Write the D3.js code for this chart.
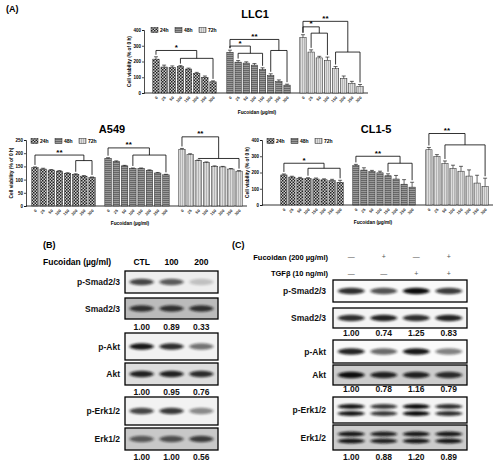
<!DOCTYPE html>
<html><head><meta charset="utf-8">
<script src="https://cdn.jsdelivr.net/npm/d3@7"></script>
<style>body{margin:0;background:#fff}text{font-family:Arial,"Liberation Sans",sans-serif}</style>
</head><body><div id="vis"></div>
<script>
'use strict';
// doses along each time group
var doses = ["0","25","50","100","150","200","250","300"];
var times = ["24h","48h","72h"];

// LLC1 cell viability (% of 0 h)
var llc1_24 = [215,165,162,168,152,125,100,71];
var llc1_48 = [258,196,190,177,148,110,73,50];
var llc1_72 = [352,260,223,208,154,92,62,42];
var llc1_err24 = [15,12,10,6,6,6,8,6];
var llc1_err48 = [14,10,8,10,12,12,10,6];
var llc1_72err = [18,14,10,20,14,16,12,12];
// A549
var a549_24 = [145,140,136,132,124,120,113,108];
var a549_48 = [180,168,152,142,142,135,125,118];
var a549_72 = [215,195,172,165,150,148,140,132];
var a549_err = [3,3,2,2,2,2,2,2];
// CL1-5
var cl15_24 = [185,172,165,163,160,155,150,140];
var cl15_48 = [242,215,205,198,180,160,128,110];
var cl15_72 = [340,298,255,225,208,178,135,115];
var cl15_err24 = [6,5,5,5,6,6,8,12];
var cl15_err48 = [8,14,8,10,12,22,28,30];
var cl15_err72 = [14,12,16,20,30,38,48,50];

// western blot labels, lane headers and quantified ratios
var blotB_rows = ["p-Smad2/3","Smad2/3","p-Akt","Akt","p-Erk1/2","Erk1/2"];
var blotB_lanes = ["CTL","100","200"];
var blotB_smad = ["1.00","0.89","0.33"];
var blotB_akt = ["1.00","0.95","0.76"];
var blotB_erk = ["1.00","1.00","0.56"];
var blotB_band = [[0.75,0.65,0.2],[0.8,0.8,0.8],[0.95,0.85,0.55],[0.9,0.9,0.85],[0.75,0.8,0.45],[0.6,0.65,0.75]];
var blotC_fuc = ["\u2014","+","\u2014","+"];
var blotC_tgf = ["\u2014","\u2014","+","+"];
var blotC_smad = ["1.00","0.74","1.25","0.83"];
var blotC_akt = ["1.00","0.78","1.16","0.79"];
var blotC_erk = ["1.00","0.88","1.20","0.89"];
var blotC_band = [[0.85,0.7,1,0.8],[0.85,0.9,0.85,0.9],[0.9,0.6,0.95,0.5],[1,0.9,0.9,0.85],[0.95,0.8,1,0.85],[0.95,0.9,0.95,0.95]];

var svg = d3.select('#vis').append('svg').attr('width',500).attr('height',465);
var defs = svg.append('defs');
// bar fill patterns
var p1 = defs.append('pattern').attr('id','pat24').attr('width',3).attr('height',3).attr('patternUnits','userSpaceOnUse');
p1.append('rect').attr('width',3).attr('height',3).attr('fill','#ccc');
p1.append('rect').attr('width',1.5).attr('height',1.5).attr('fill','#222');
p1.append('rect').attr('x',1.5).attr('y',1.5).attr('width',1.5).attr('height',1.5).attr('fill','#222');
var p2 = defs.append('pattern').attr('id','pat48').attr('width',4).attr('height',2).attr('patternUnits','userSpaceOnUse');
p2.append('rect').attr('width',4).attr('height',2).attr('fill','#999');
p2.append('rect').attr('width',4).attr('height',0.8).attr('fill','#5a5a5a');
var p3 = defs.append('pattern').attr('id','pat72').attr('width',2).attr('height',4).attr('patternUnits','userSpaceOnUse');
p3.append('rect').attr('width',2).attr('height',4).attr('fill','#ddd');
p3.append('rect').attr('width',0.6).attr('height',4).attr('fill','#999');
defs.append('filter').attr('id','blur').attr('x','-30%').attr('y','-80%').attr('width','160%').attr('height','260%')
  .append('feGaussianBlur').attr('stdDeviation','1.6 1.2');
var pats = ['url(#pat24)','url(#pat48)','url(#pat72)'];

svg.append('text').attr('x',6).attr('y',12).attr('font-size',9).attr('font-weight','bold').text('(A)');

function drawPanel(c){
  var g = svg.append('g');
  var y = d3.scaleLinear().domain([0,c.max]).range([c.y0,c.y1]);
  g.append('g').attr('transform','translate('+c.ax+',0)')
   .call(d3.axisLeft(y).tickValues(c.ticks).tickSize(2).tickPadding(1).tickFormat(d3.format('d')))
   .call(function(a){a.selectAll('text').attr('font-size',4.5).attr('font-weight','bold');a.selectAll('path,line').attr('stroke-width',0.7);});
  g.append('line').attr('x1',c.ax).attr('x2',c.groups[2][1]+3).attr('y1',c.y0).attr('y2',c.y0).attr('stroke','#000').attr('stroke-width',0.8);
  g.append('text').attr('transform','translate('+(c.ax-13)+','+((c.y0+c.y1)/2)+') rotate(-90)')
   .attr('text-anchor','middle').attr('font-size',4.8).attr('font-weight','bold').text('Cell viability (% of 0 h)');
  var xs = [];
  c.vals.forEach(function(vals,gi){
    var x = d3.scaleBand().domain(doses).range(c.groups[gi]).padding(0.22);
    xs.push(x);
    g.selectAll(null).data(vals).enter().append('rect')
     .attr('x',function(d,i){return x(doses[i]);}).attr('width',x.bandwidth())
     .attr('y',function(d){return y(d);}).attr('height',function(d){return c.y0-y(d);})
     .attr('fill',pats[gi]).attr('stroke','#222').attr('stroke-width',0.5);
    var errs = c.errs[gi];
    vals.forEach(function(d,i){
      var cx = x(doses[i])+x.bandwidth()/2;
      g.append('line').attr('x1',cx).attr('x2',cx).attr('y1',y(d)).attr('y2',y(d+errs[i])).attr('stroke','#000').attr('stroke-width',0.6);
      g.append('line').attr('x1',cx-2).attr('x2',cx+2).attr('y1',y(d+errs[i])).attr('y2',y(d+errs[i])).attr('stroke','#000').attr('stroke-width',0.6);
      g.append('text').attr('transform','translate('+(cx+1)+','+(c.y0+4)+') rotate(-45)')
       .attr('text-anchor','end').attr('dy','0.35em').attr('font-size',4).attr('font-weight','bold').attr('fill','#333').text(doses[i]);
    });
  });
  // significance brackets
  c.br.forEach(function(b){
    var x = xs[b.g], vals = c.vals[b.g], errs = c.errs[b.g];
    var cx = function(i){return x(doses[i])+x.bandwidth()/2;};
    var xa = cx(b.a), xl0 = cx(b.b0), xl1 = cx(b.b1), xm = (xl0+xl1)/2;
    var yt = y(b.top), yl = y(b.low);
    var path = 'M'+xa+','+(y(vals[b.a]+errs[b.a])-2)+'V'+yt+'H'+xm+'V'+yl+
      'M'+xl0+','+(y(vals[b.b0]+errs[b.b0])-2)+'V'+yl+'H'+xl1+'V'+(y(vals[b.b1]+errs[b.b1])-2);
    g.append('path').attr('d',path).attr('fill','none').attr('stroke','#000').attr('stroke-width',0.8);
    g.append('text').attr('x',(xa+xm)/2).attr('y',yt-0.5).attr('text-anchor','middle').attr('font-size',8).attr('font-weight','bold').text(b.s);
  });
  g.append('text').attr('x',c.title[0]).attr('y',c.title[1]).attr('text-anchor','middle').attr('font-size',11).attr('font-weight','bold').text(c.name);
  var lg = g.append('g').attr('transform','translate('+c.leg[0]+','+c.leg[1]+')');
  times.forEach(function(t,i){
    lg.append('rect').attr('x',i*24).attr('y',-2.5).attr('width',7).attr('height',5).attr('fill',pats[i]).attr('stroke','#222').attr('stroke-width',0.5);
    lg.append('text').attr('x',i*24+9).attr('y',2).attr('font-size',5).attr('font-weight','bold').text(t);
  });
  g.append('text').attr('x',c.xlab[0]).attr('y',c.xlab[1]).attr('text-anchor','middle').attr('font-size',4.8).attr('font-weight','bold').text('Fucoidan (\u00b5g/ml)');
}

drawPanel({name:'LLC1',ax:144,y0:93,y1:30,max:400,ticks:[0,100,200,300,400],
  groups:[[151,218],[225,292],[298,365]],vals:[llc1_24,llc1_48,llc1_72],errs:[llc1_err24,llc1_err48,llc1_72err],
  title:[255,18],leg:[151,30],xlab:[257,114],
  br:[{g:0,a:0,b0:3,b1:7,top:270,low:220,s:'*'},
      {g:1,a:0,b0:5,b1:7,top:340,low:270,s:'**'},{g:1,a:0,b0:1,b1:4,top:298,low:252,s:'*'},
      {g:2,a:0,b0:4,b1:7,top:455,low:260,s:'**'},{g:2,a:0,b0:1,b1:3,top:420,low:380,s:'*'}]});
drawPanel({name:'A549',ax:26,y0:206,y1:140,max:250,ticks:[0,50,100,150,200,250],
  groups:[[30,97],[103,171],[177,244]],vals:[a549_24,a549_48,a549_72],errs:[a549_err,a549_err,a549_err],
  title:[112,133],leg:[31,141],xlab:[130,225],
  br:[{g:0,a:0,b0:5,b1:7,top:193,low:172,s:'**'},
      {g:1,a:0,b0:3,b1:7,top:220,low:193,s:'**'},
      {g:2,a:0,b0:2,b1:7,top:262,low:180,s:'**'}]});
drawPanel({name:'CL1-5',ax:262,y0:205,y1:140,max:400,ticks:[0,100,200,300,400],
  groups:[[279,345],[351,417],[424,490]],vals:[cl15_24,cl15_48,cl15_72],errs:[cl15_err24,cl15_err48,cl15_err72],
  title:[376,133],leg:[267,141],xlab:[373,224],
  br:[{g:0,a:0,b0:3,b1:7,top:257,low:226,s:'*'},
      {g:1,a:0,b0:4,b1:7,top:300,low:257,s:'**'},
      {g:2,a:0,b0:2,b1:7,top:440,low:370,s:'**'}]});

// western blots
function drawBlot(c){
  var g = svg.append('g');
  var x = d3.scaleBand().domain(c.lanes).range([c.x0,c.x1]).padding(0.12);
  c.rows.forEach(function(r,ri){
    var box = c.boxes[ri];
    g.append('rect').attr('x',c.x0).attr('y',box[0]).attr('width',c.x1-c.x0).attr('height',box[1]-box[0])
     .attr('fill',c.bg[ri]).attr('stroke','#000').attr('stroke-width',1.3);
    var cy = (box[0]+box[1])/2;
    c.lanes.forEach(function(l,li){
      var v = c.band[ri][li];
      var cx = x(l)+x.bandwidth()/2;
      var ys = c.doublet[ri] ? [cy-3.5,cy+3.5] : [cy];
      ys.forEach(function(yy){
        g.append('ellipse').attr('cx',cx).attr('cy',yy).attr('rx',x.bandwidth()/2-1).attr('ry',c.doublet[ri]?2.6:3.2)
         .attr('fill','#111').attr('opacity',v).attr('filter','url(#blur)');
      });
    });
    g.append('text').attr('x',c.lx).attr('y',cy+3).attr('text-anchor','end').attr('font-size',8.5).attr('font-weight','bold').attr('fill','#111').text(r);
  });
  c.nums.forEach(function(n,ni){
    c.lanes.forEach(function(l,li){
      g.append('text').attr('x',x(l)+x.bandwidth()/2).attr('y',c.numY[ni]).attr('text-anchor','middle')
       .attr('font-size',8.5).attr('font-weight','bold').attr('fill','#111').text(n[li]);
    });
  });
  return x;
}

svg.append('text').attr('x',43).attr('y',248).attr('font-size',9).attr('font-weight','bold').text('(B)');
svg.append('text').attr('x',43).attr('y',265).attr('font-size',8.5).attr('font-weight','bold').text('Fucoidan (\u00b5g/ml)');
var xB = drawBlot({rows:blotB_rows,lanes:blotB_lanes,x0:125,x1:218,lx:120,band:blotB_band,
  bg:['#eee','#bbb','#f2f2f2','#ddd','#f2f2f2','#c8c8c8'],doublet:[false,false,false,false,false,false],
  boxes:[[271,293],[298,319],[333,360],[363,385],[397,425],[428,450]],
  nums:[blotB_smad,blotB_akt,blotB_erk],numY:[330,395,460]});
blotB_lanes.forEach(function(l){
  svg.append('text').attr('x',xB(l)+xB.bandwidth()/2).attr('y',265).attr('text-anchor','middle').attr('font-size',8.5).attr('font-weight','bold').text(l);
});

svg.append('text').attr('x',232).attr('y',248).attr('font-size',9).attr('font-weight','bold').text('(C)');
svg.append('text').attr('x',328).attr('y',260).attr('text-anchor','end').attr('font-size',7.5).attr('font-weight','bold').text('Fucoidan (200 \u00b5g/ml)');
svg.append('text').attr('x',328).attr('y',276).attr('text-anchor','end').attr('font-size',7.5).attr('font-weight','bold').text('TGF\u03b2 (10 ng/ml)');
var xC = drawBlot({rows:blotB_rows,lanes:['a','b','c','d'],x0:333,x1:467,lx:326,band:blotC_band,
  bg:['#fafafa','#f4f4f4','#fafafa','#ccc','#f4f4f4','#ccc'],doublet:[false,false,false,false,true,true],
  boxes:[[280,302],[308,328],[340,363],[365,385],[397,423],[425,450]],
  nums:[blotC_smad,blotC_akt,blotC_erk],numY:[336,392,460]});
['a','b','c','d'].forEach(function(l,i){
  var cx = xC(l)+xC.bandwidth()/2;
  svg.append('text').attr('x',cx).attr('y',259).attr('text-anchor','middle').attr('font-size',7).attr('fill','#555').text(blotC_fuc[i]);
  svg.append('text').attr('x',cx).attr('y',276).attr('text-anchor','middle').attr('font-size',7).attr('fill','#555').text(blotC_tgf[i]);
});
</script></body></html>
